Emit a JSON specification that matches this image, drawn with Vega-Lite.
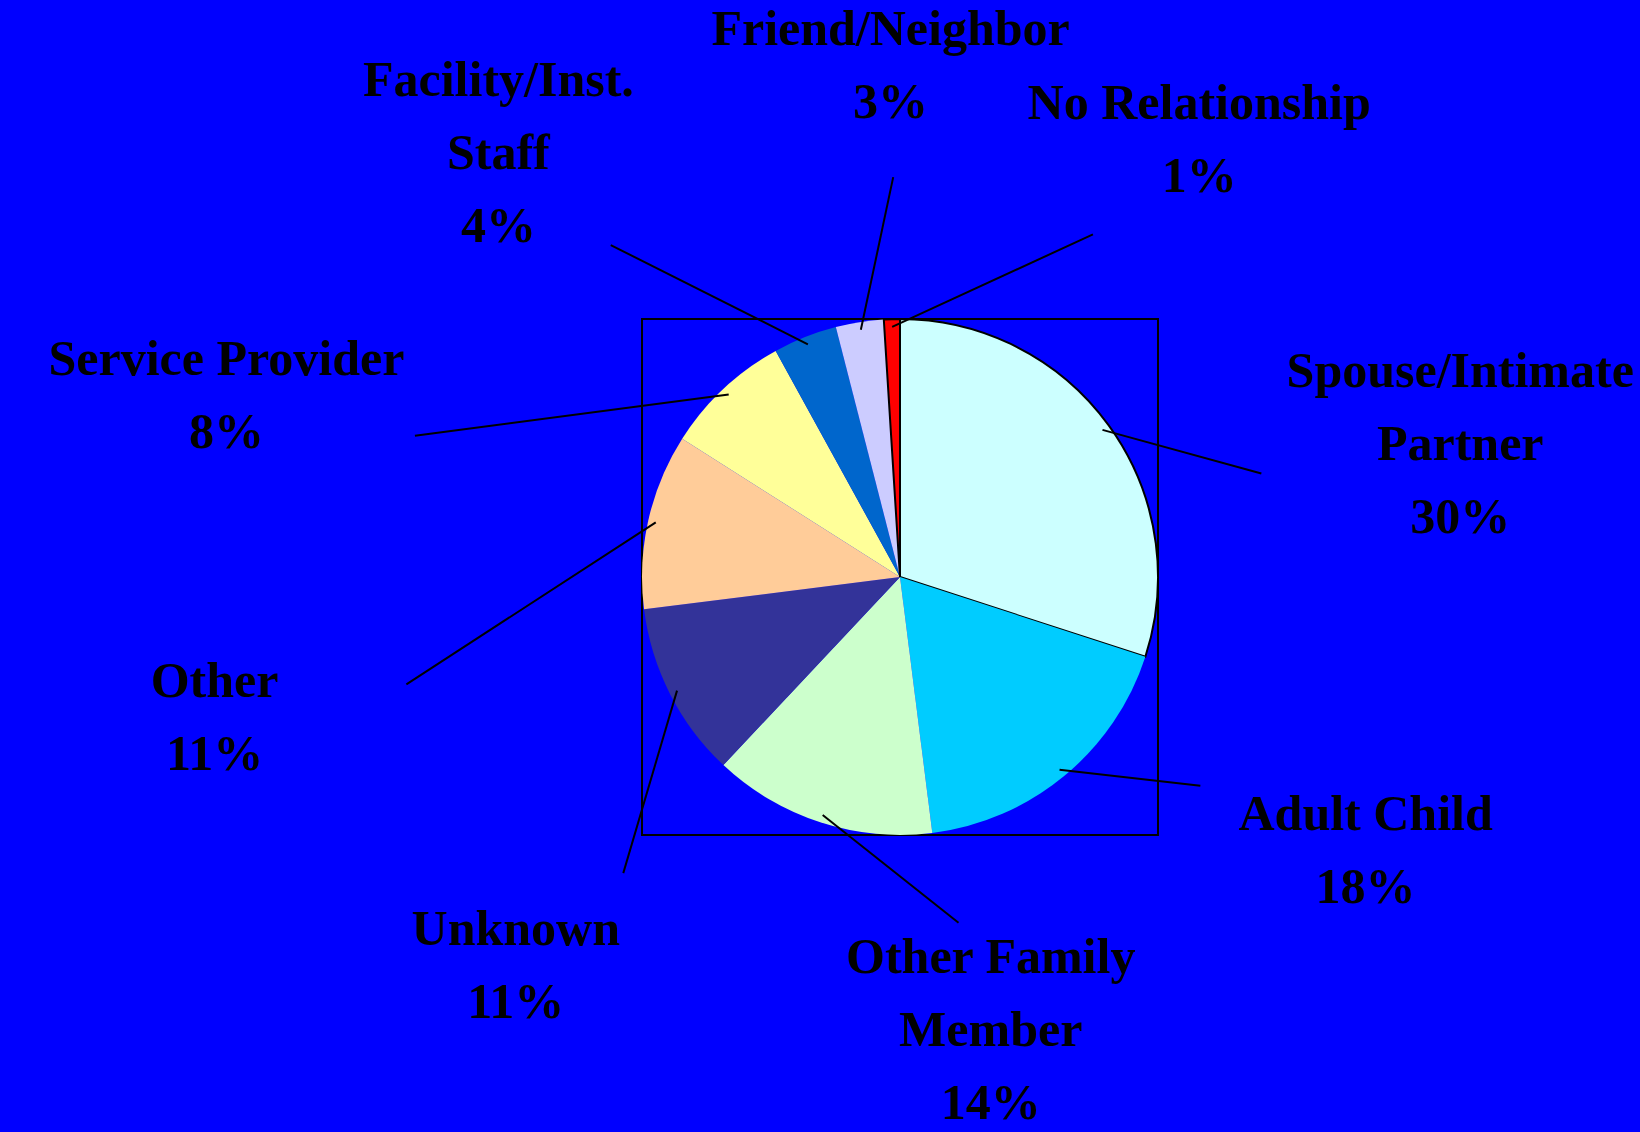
{
  "$schema": "https://vega.github.io/schema/vega-lite/v6.json",
  "width": 1640,
  "height": 1132,
  "padding": 0,
  "autosize": {"type": "none"},
  "background": "#0000FF",
  "config": {"view": {"stroke": null}},
  "datasets": {
    "slices": [
      {"cat": "Spouse/Intimate Partner", "label": "Spouse/Intimate\nPartner", "value": 30},
      {"cat": "Adult Child", "label": "Adult Child", "value": 18},
      {"cat": "Other Family Member", "label": "Other Family\nMember", "value": 14},
      {"cat": "Unknown", "label": "Unknown", "value": 11},
      {"cat": "Other", "label": "Other", "value": 11},
      {"cat": "Service Provider", "label": "Service Provider", "value": 8},
      {"cat": "Facility/Inst. Staff", "label": "Facility/Inst.\nStaff", "value": 4},
      {"cat": "Friend/Neighbor", "label": "Friend/Neighbor", "value": 3},
      {"cat": "No Relationship", "label": "No Relationship", "value": 1}
    ]
  },
  "layer": [
    {
      "data": {"values": [{}]},
      "mark": {"type": "rect", "fillOpacity": 0, "stroke": "#000000", "strokeWidth": 2},
      "encoding": {
        "x": {"datum": -1, "type": "quantitative", "scale": {"domain": [-3.48837, 2.86822], "nice": false, "zero": false}, "axis": null},
        "x2": {"datum": 1},
        "y": {"datum": -1, "type": "quantitative", "scale": {"domain": [-2.15116, 2.23643], "nice": false, "zero": false}, "axis": null},
        "y2": {"datum": 1}
      }
    },
    {
      "data": {"name": "slices"},
      "transform": [
        {"window": [{"op": "row_number", "as": "rank"}]}
      ],
      "mark": {"type": "arc", "radius": 258, "stroke": "#000000"},
      "encoding": {
        "x": {"datum": 0, "type": "quantitative", "scale": {"domain": [-3.48837, 2.86822], "nice": false, "zero": false}, "axis": null},
        "y": {"datum": 0, "type": "quantitative", "scale": {"domain": [-2.15116, 2.23643], "nice": false, "zero": false}, "axis": null},
        "theta": {"field": "value", "type": "quantitative", "stack": true},
        "order": {"field": "rank", "type": "quantitative"},
        "color": {
          "field": "cat",
          "type": "nominal",
          "scale": {
            "domain": ["Spouse/Intimate Partner", "Adult Child", "Other Family Member", "Unknown", "Other", "Service Provider", "Facility/Inst. Staff", "Friend/Neighbor", "No Relationship"],
            "range": ["#CCFFFF", "#00CCFF", "#CCFFCC", "#333399", "#FFCC99", "#FFFF99", "#0066CC", "#CCCCFF", "#FF0000"]
          },
          "legend": null
        },
        "strokeWidth": {"condition": {"test": "datum.rank == 1 || datum.rank == 9", "value": 2}, "value": 0}
      }
    },
    {
      "data": {"name": "slices"},
      "transform": [
        {"window": [{"op": "row_number", "as": "rank"}, {"op": "sum", "field": "value", "as": "cum"}], "frame": [null, 0]},
        {"joinaggregate": [{"op": "sum", "field": "value", "as": "total"}]},
        {"calculate": "2*PI*(datum.cum - datum.value/2)/datum.total", "as": "mid"},
        {"calculate": "0.25*datum.mid + 0.75*(82 + 40*(datum.rank-1))*PI/180", "as": "la"},
        {"calculate": "0.97*sin(datum.mid)", "as": "ex"},
        {"calculate": "0.97*cos(datum.mid)", "as": "ey"},
        {"calculate": "sin(datum.la) * (sin(datum.la) > 0 ? 1.45 : 2.01)", "as": "lex"},
        {"calculate": "cos(datum.la) * (cos(datum.la) > 0 ? 1.55 : 1.357)", "as": "ley"}
      ],
      "mark": {"type": "rule", "stroke": "#000000", "strokeWidth": 2},
      "encoding": {
        "x": {"field": "ex", "type": "quantitative", "scale": {"domain": [-3.48837, 2.86822], "nice": false, "zero": false}, "axis": null},
        "y": {"field": "ey", "type": "quantitative", "scale": {"domain": [-2.15116, 2.23643], "nice": false, "zero": false}, "axis": null},
        "x2": {"field": "lex"},
        "y2": {"field": "ley"}
      }
    },
    {
      "data": {"name": "slices"},
      "transform": [
        {"window": [{"op": "row_number", "as": "rank"}, {"op": "sum", "field": "value", "as": "cum"}], "frame": [null, 0]},
        {"joinaggregate": [{"op": "sum", "field": "value", "as": "total"}]},
        {"calculate": "2*PI*(datum.cum - datum.value/2)/datum.total", "as": "mid"},
        {"calculate": "0.25*datum.mid + 0.75*(82 + 40*(datum.rank-1))*PI/180", "as": "la"},
        {"calculate": "datum.label + '\\n' + datum.value + '%'", "as": "txt"},
        {"calculate": "length(split(datum.txt, '\\n'))", "as": "nl"},
        {"calculate": "sin(datum.la) * (sin(datum.la) > 0 ? 2.248 : 2.791)", "as": "lx"},
        {"calculate": "cos(datum.la) * (cos(datum.la) > 0 ? 1.977 : 1.783) + (datum.nl - 1) / 2 * 73 / 258", "as": "ly"}
      ],
      "mark": {"type": "text", "font": "Liberation Serif", "fontWeight": "bold", "fontSize": 50, "lineHeight": 73, "lineBreak": "\n", "align": "center", "baseline": "middle", "color": "#000000"},
      "encoding": {
        "x": {"field": "lx", "type": "quantitative", "scale": {"domain": [-3.48837, 2.86822], "nice": false, "zero": false}, "axis": null},
        "y": {"field": "ly", "type": "quantitative", "scale": {"domain": [-2.15116, 2.23643], "nice": false, "zero": false}, "axis": null},
        "text": {"field": "txt", "type": "nominal"}
      }
    }
  ]
}
